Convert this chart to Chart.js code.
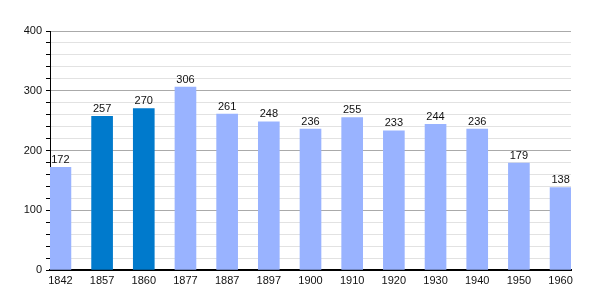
<html>
    <head>
        <meta charset="UTF-8">
        <title>Population</title>
        <script src="https://cdn.jsdelivr.net/npm/chart.js"></script>
        <style>
            body { margin: 0; background: #fff; }
            .chart_container { width: 600px; height: 300px; }
        </style>
    </head>
    <body>
        <div class='chart_container'>
            <canvas id='population' width='600' height='300'></canvas>
        </div>
        <script>
            const years = ['1842', '1857', '1860', '1877', '1887', '1897', '1900', '1910', '1920', '1930', '1940', '1950', '1960'];
            const population = [172, 257, 270, 306, 261, 248, 236, 255, 233, 244, 236, 179, 138];
            const darkYears = ['1857', '1860'];

            const lightColor = 'rgb(153, 179, 255)';
            const darkColor = 'rgb(0, 122, 204)';
            const fontFamily = '"Liberation Sans", Arial, sans-serif';

            // value above each bar
            const valueLabels = {
                id: 'valueLabels',
                afterDatasetsDraw(chart) {
                    const ctx = chart.ctx;
                    const meta = chart.getDatasetMeta(0);
                    ctx.save();
                    ctx.font = '11px ' + fontFamily;
                    ctx.fillStyle = '#111';
                    ctx.textAlign = 'center';
                    ctx.textBaseline = 'bottom';
                    meta.data.forEach((bar, i) => {
                        ctx.fillText(population[i], bar.x, bar.y - 2);
                    });
                    ctx.restore();
                }
            };

            const data = {
                datasets: [{
                    data: population.map((v, i) => ({ x: i, y: v })),
                    backgroundColor: years.map(y => darkYears.includes(y) ? darkColor : lightColor),
                    barThickness: 21,
                    borderWidth: 0
                }]
            };

            new Chart(document.getElementById('population'), {
                type: 'bar',
                data: data,
                plugins: [valueLabels],
                options: {
                    responsive: false,
                    animation: false,
                    layout: { padding: { top: 31, right: 29, left: 0, bottom: 0 } },
                    plugins: { legend: { display: false }, tooltip: { enabled: false } },
                    scales: {
                        x: {
                            type: 'linear',
                            offset: false,
                            min: -0.25,
                            max: 12.25,
                            afterBuildTicks: axis => { axis.ticks = years.map((y, i) => ({ value: i })); },
                            afterFit: axis => { axis.height = 30; },
                            grid: { display: false, drawTicks: false },
                            border: { display: true, color: '#000', width: 2 },
                            ticks: {
                                autoSkip: false,
                                maxRotation: 0,
                                padding: 4,
                                color: '#111',
                                font: { family: fontFamily, size: 11 },
                                callback: v => years[v]
                            }
                        },
                        y: {
                            min: 0,
                            max: 400,
                            afterFit: axis => { axis.width = 50; },
                            border: { display: true, color: '#000', width: 1 },
                            grid: {
                                color: c => c.tick.value % 100 === 0 ? '#aaaaaa' : '#e2e2e2',
                                tickColor: '#000',
                                tickLength: 4
                            },
                            ticks: {
                                stepSize: 20,
                                autoSkip: false,
                                padding: 4,
                                color: '#111',
                                font: { family: fontFamily, size: 11 },
                                callback: v => v % 100 === 0 ? v : ''
                            }
                        }
                    }
                }
            });
        </script>
    </body>
</html>
